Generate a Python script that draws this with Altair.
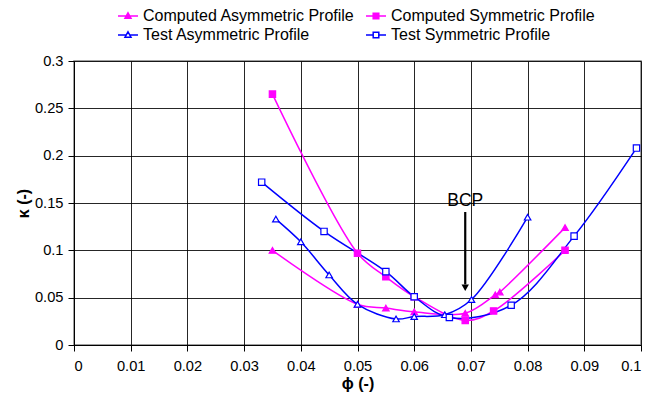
import altair as alt
import pandas as pd

# ---- data ----
series_names = [
    "Computed Asymmetric Profile",
    "Computed Symmetric Profile",
    "Test Asymmetric Profile",
    "Test Symmetric Profile",
]

comp_asym_phi = [0.035, 0.050, 0.055, 0.060, 0.069, 0.0743, 0.0751, 0.0866]
comp_asym_kappa = [0.100, 0.043, 0.039, 0.035, 0.0335, 0.053, 0.056, 0.124]

comp_sym_phi = [0.035, 0.050, 0.055, 0.060, 0.069, 0.074, 0.0866]
comp_sym_kappa = [0.265, 0.097, 0.072, 0.051, 0.026, 0.036, 0.100]

test_asym_phi = [0.0356, 0.040, 0.045, 0.050, 0.0568, 0.060, 0.0654, 0.0701, 0.080]
test_asym_kappa = [0.133, 0.109, 0.074, 0.043, 0.0275, 0.030, 0.032, 0.048, 0.135]

test_sym_phi = [0.0331, 0.0441, 0.055, 0.060, 0.0662, 0.0771, 0.0882, 0.0992]
test_sym_kappa = [0.172, 0.120, 0.0775, 0.051, 0.029, 0.042, 0.115, 0.208]

x_ticks = [0, 0.01, 0.02, 0.03, 0.04, 0.05, 0.06, 0.07, 0.08, 0.09, 0.1]
y_ticks = [0, 0.05, 0.1, 0.15, 0.2, 0.25, 0.3]

bcp_label = ["BCP"]
bcp_phi = [0.069]
bcp_text_kappa = [0.1525]
bcp_arrow_top = [0.1405]
bcp_arrow_bottom = [0.064]
bcp_head_kappa = [0.0605]

# ---- build table ----
rows = []
for name, xs, ys in zip(
    series_names,
    [comp_asym_phi, comp_sym_phi, test_asym_phi, test_sym_phi],
    [comp_asym_kappa, comp_sym_kappa, test_asym_kappa, test_sym_kappa],
):
    for xv, yv in zip(xs, ys):
        rows.append({"series": name, "phi": xv, "kappa": yv})
df = pd.DataFrame(rows)

bcp_df = pd.DataFrame({
    "label": bcp_label, "phi": bcp_phi, "ty": bcp_text_kappa,
    "y1": bcp_arrow_top, "y2": bcp_arrow_bottom, "hy": bcp_head_kappa,
})

FONT = "Liberation Sans"
MAG = "#FF00FF"
BLU = "#0000FF"

stroke_scale = alt.Scale(domain=series_names, range=[MAG, MAG, BLU, BLU])
fill_scale = alt.Scale(domain=series_names, range=[MAG, MAG, "#FFFFFF", "#FFFFFF"])
shape_scale = alt.Scale(
    domain=series_names,
    range=[
        "M-1,0H1M0,-0.32L0.3,0.22H-0.3Z",
        "M-1,0H1M-0.28,-0.28H0.28V0.28H-0.28Z",
        "M-1,0H-0.18M0.18,0H1M0,-0.32L0.3,0.22H-0.3Z",
        "M-1,0H-0.28M0.28,0H1M-0.28,-0.28H0.28V0.28H-0.28Z",
    ],
)
width_scale = alt.Scale(domain=series_names, range=[1.5, 1.5, 2.8, 1.5])

legend_def = alt.Legend(
    title=None,
    orient="none",
    direction="horizontal",
    legendX=43,
    legendY=-56,
    columns=2,
    columnPadding=8,
    rowPadding=0,
    labelOffset=4,
    labelFont=FONT,
    labelFontSize=16,
    labelColor="#000000",
    symbolSize=400,
    symbolStrokeWidth=1.5,
    symbolOpacity=1,
    padding=0,
    labelLimit=400,
)

x_enc = alt.X(
    "phi:Q",
    scale=alt.Scale(domain=[0, 0.1], nice=False, zero=False),
    axis=alt.Axis(
        values=x_ticks, format="~g", title="ϕ (-)",
        titleX=283.5, titleY=38, titleBaseline="middle", titleAlign="center",
    ),
)
y_enc = alt.Y(
    "kappa:Q",
    scale=alt.Scale(domain=[0, 0.3], nice=False),
    axis=alt.Axis(
        values=y_ticks, format="~g", title="κ (-)",
        titleX=-51, titleY=142, titleAngle=270,
        titleBaseline="middle", titleAlign="center",
    ),
)

base = alt.Chart(df)

lines = base.mark_line(interpolate="catmull-rom").encode(
    x=x_enc, y=y_enc,
    stroke=alt.Stroke("series:N", scale=stroke_scale, legend=legend_def),
    strokeWidth=alt.StrokeWidth("series:N", scale=width_scale, legend=None),
)

tri = base.transform_filter(
    alt.FieldOneOfPredicate(field="series", oneOf=[series_names[0], series_names[2]])
).mark_point(shape="triangle-up", filled=True, size=42, opacity=1, strokeWidth=1.2).encode(
    x=x_enc, y=y_enc,
    stroke=alt.Stroke("series:N", scale=stroke_scale, legend=legend_def),
    fill=alt.Fill("series:N", scale=fill_scale, legend=legend_def),
)

sq = base.transform_filter(
    alt.FieldOneOfPredicate(field="series", oneOf=[series_names[1], series_names[3]])
).mark_point(shape="square", filled=True, size=40, opacity=1, strokeWidth=1.2).encode(
    x=x_enc, y=y_enc,
    stroke=alt.Stroke("series:N", scale=stroke_scale, legend=legend_def),
    fill=alt.Fill("series:N", scale=fill_scale, legend=legend_def),
)

legend_layer = base.transform_filter("false").mark_point(
    filled=True, opacity=1, strokeWidth=1.5, size=400
).encode(
    x=x_enc, y=y_enc,
    stroke=alt.Stroke("series:N", scale=stroke_scale, legend=legend_def),
    fill=alt.Fill("series:N", scale=fill_scale, legend=legend_def),
    shape=alt.Shape("series:N", scale=shape_scale, legend=legend_def),
)

bcp_base = alt.Chart(bcp_df)
bcp_text = bcp_base.mark_text(font=FONT, fontSize=17.5, color="#000000", baseline="middle", align="center").encode(
    x="phi:Q", y="ty:Q", text="label:N"
)
bcp_shaft = bcp_base.mark_rule(color="#000000", strokeWidth=2.2).encode(
    x="phi:Q", y="y1:Q", y2="y2:Q"
)
bcp_head = bcp_base.mark_point(shape="triangle-down", filled=True, color="#000000", size=55, opacity=1).encode(
    x="phi:Q", y="hy:Q"
)

chart = alt.layer(lines, tri, sq, legend_layer, bcp_shaft, bcp_head, bcp_text).properties(
    width=567,
    height=284,
    autosize=alt.AutoSizeParams(type="none"),
    padding={"left": 66, "top": 53, "right": 14, "bottom": 47},
).configure_view(
    stroke="#808080", strokeWidth=1.5
).configure_axis(
    labelFont=FONT, labelFontSize=14.67, labelColor="#000000",
    titleFont=FONT, titleFontSize=16, titleFontWeight="bold", titleColor="#000000",
    grid=True, gridColor="#000000", gridWidth=1, gridOpacity=0.85,
    domainColor="#000000", domainWidth=1,
    tickColor="#000000", tickSize=6, tickWidth=1,
).configure_axisX(
    labelPadding=7,
).configure_axisY(
    labelPadding=5,
)

chart.save("out.html", embed_options={"renderer": "svg", "actions": False})
